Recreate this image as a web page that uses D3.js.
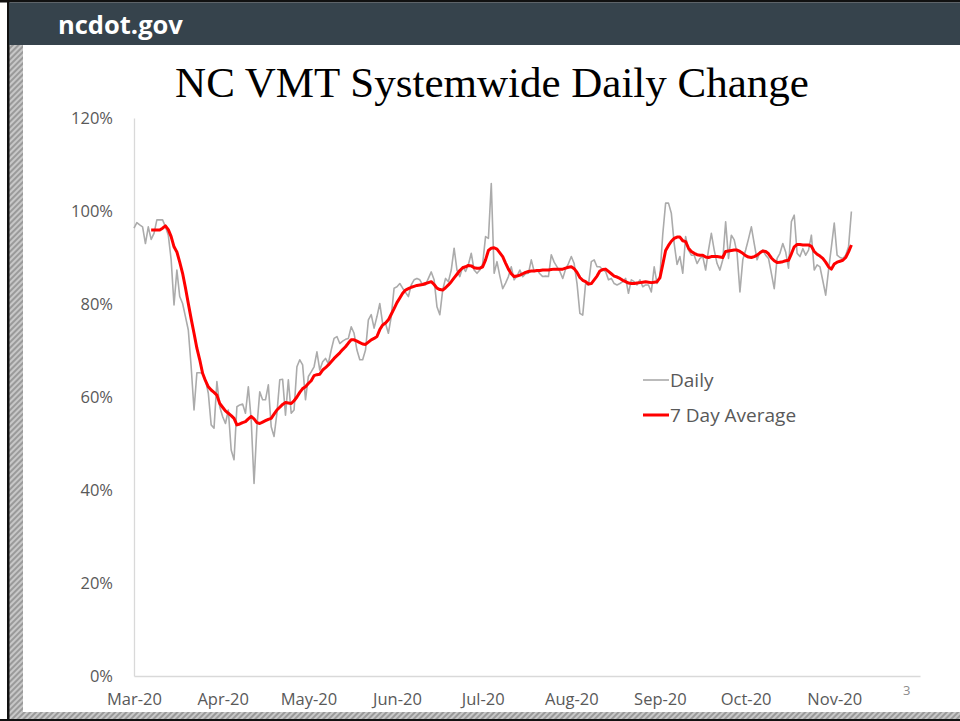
<!DOCTYPE html>
<html>
<head>
<meta charset="utf-8">
<script src="https://cdn.jsdelivr.net/npm/d3@7"></script>
<style>
  body { margin: 0; background: #fff; }
  svg { display: block; }
  .tick-label { font-family: "Open Sans", sans-serif; font-size: 16.5px; fill: #595959; }
  .legend-label { font-family: "Open Sans", sans-serif; font-size: 19px; fill: #595959; }
</style>
</head>
<body>
<div id="chart"></div>
<script>
// chart values
var startDate = "2020-03-01";
var monthLabels = ["Mar-20", "Apr-20", "May-20", "Jun-20", "Jul-20", "Aug-20", "Sep-20", "Oct-20", "Nov-20"];
var yTicks = [0, 0.2, 0.4, 0.6, 0.8, 1.0, 1.2];

// daily VMT vs baseline, % (one value per day from Mar 1)
var daily = [
  96.3, 97.5, 97.0, 96.6, 93.0, 96.6, 93.9, 95.2, 98.1, 98.1,
  98.1, 96.6, 94.8, 89.5, 79.8, 87.3, 81.6, 80.1, 77.3, 74.4,
  66.5, 57.2, 65.2, 65.2, 65.1, 63.7, 60.8, 54.0, 53.3, 63.3,
  57.9, 55.8, 54.3, 57.2, 48.6, 46.5, 57.9, 58.3, 58.5, 56.5,
  62.2, 55.1, 41.4, 53.6, 61.1, 59.4, 59.4, 62.6, 53.6, 51.5,
  56.5, 63.7, 63.8, 56.1, 63.7, 56.5, 57.2, 66.5, 68.0, 66.9,
  59.4, 64.4, 65.4, 66.5, 69.7, 65.8, 67.6, 68.3, 67.2, 70.1,
  72.6, 73.0, 71.5, 72.0, 72.4, 72.6, 75.1, 73.7, 70.1, 68.0,
  68.0, 70.1, 76.6, 77.7, 74.8, 77.3, 80.1, 75.8, 75.8, 73.7,
  77.3, 83.4, 83.7, 84.4, 83.4, 82.5, 81.6, 84.1, 85.2, 85.5,
  85.2, 84.1, 84.1, 85.5, 86.9, 85.2, 79.4, 77.7, 83.0, 85.5,
  84.8, 87.3, 92.0, 87.3, 85.9, 88.0, 87.0, 88.5, 90.9, 87.3,
  86.6, 87.3, 88.7, 94.5, 94.1, 105.9, 86.6, 89.1, 86.0, 83.3,
  84.5, 85.9, 88.0, 85.2, 86.0, 87.3, 85.9, 86.5, 86.6, 89.5,
  87.0, 87.3, 86.5, 85.9, 86.0, 85.9, 90.6, 89.0, 88.0, 87.0,
  85.5, 87.5, 88.7, 90.2, 88.7, 84.4, 78.0, 77.6, 84.4, 84.1,
  89.1, 89.5, 88.0, 88.0, 87.3, 87.0, 85.2, 85.5, 84.4, 84.1,
  84.4, 84.8, 85.5, 82.3, 85.2, 84.8, 84.1, 85.2, 83.7, 84.1,
  84.1, 82.6, 88.0, 84.4, 86.0, 95.0, 101.7, 101.7, 99.5, 93.0,
  88.5, 90.2, 86.6, 94.5, 91.6, 90.5, 90.5, 88.7, 89.8, 90.2,
  87.3, 91.6, 95.2, 91.6, 88.7, 87.3, 89.5, 97.7, 89.8, 94.8,
  93.8, 90.9, 82.6, 89.5, 91.6, 94.0, 96.6, 93.0, 89.5, 91.2,
  91.6, 90.5, 89.8, 86.6, 83.3, 89.8, 90.9, 93.0, 91.2, 87.7,
  97.7, 99.1, 90.9, 90.2, 91.9, 90.5, 91.6, 94.8, 87.3, 88.4,
  88.0, 85.0, 81.9, 87.3, 92.3, 97.4, 90.5, 90.0, 89.8, 90.5,
  92.3, 99.9
];

// 7 day average, %, first value on day 7 (Mar 7)
var avgStart = 6;
var avg7 = [
  95.9, 95.9, 95.9, 95.9,
  96.3, 96.8, 96.0, 94.5, 92.3, 91.2, 89.0, 86.6, 83.5, 80.1,
  76.8, 73.7, 70.5, 68.0, 65.1, 63.5, 62.2, 61.5, 61.0, 60.4,
  58.6, 57.8, 57.0, 56.5, 56.0, 55.4, 54.0, 54.2, 54.5, 54.7,
  55.3, 55.8, 55.3, 54.5, 54.3, 54.6, 54.9, 55.2, 55.4, 56.3,
  57.2, 57.8, 58.4, 58.8, 58.7, 58.6, 59.2, 60.0, 61.0, 61.8,
  62.2, 62.9, 63.5, 64.6, 64.8, 64.9, 65.8, 66.3, 66.9, 67.6,
  68.3, 68.9, 69.5, 70.2, 70.8, 71.6, 72.3, 72.3, 72.0, 71.7,
  71.4, 71.3, 71.8, 72.3, 72.6, 73.0, 74.5, 75.5, 75.9, 76.6,
  77.8, 79.0, 80.3, 81.3, 82.3, 83.0, 83.3, 83.6, 83.8, 84.0,
  84.1, 84.2, 84.4, 84.6, 84.8, 84.2, 83.4, 83.1, 83.0, 83.5,
  84.1, 84.8, 85.6, 86.4, 87.2, 87.8, 88.0, 88.3, 88.2, 87.8,
  87.7, 87.7, 88.0, 89.5, 91.5, 92.0, 92.1, 91.8, 91.0, 90.2,
  88.8, 87.5, 86.5, 85.9, 86.0, 86.2, 86.5, 86.8, 87.0, 87.1,
  87.1, 87.2, 87.2, 87.3, 87.3, 87.3, 87.4, 87.5, 87.5, 87.5,
  87.5, 87.7, 87.9, 88.0, 87.6, 86.8, 85.7, 85.1, 84.8, 84.3,
  84.4, 85.2, 86.0, 87.1, 87.4, 87.5, 87.0, 86.5, 86.0, 85.8,
  85.5, 85.1, 84.8, 84.5, 84.4, 84.4, 84.5, 84.6, 84.7, 84.8,
  84.7, 84.6, 84.7, 84.8, 85.6, 88.5, 91.5, 92.6, 93.5, 94.1,
  94.4, 94.4, 93.6, 93.4, 92.0, 91.3, 90.9, 90.6, 90.5, 90.5,
  90.1, 90.0, 90.2, 90.2, 90.2, 90.1, 90.0, 91.3, 91.4, 91.5,
  91.6, 91.6, 91.3, 90.9, 90.4, 90.1, 90.0, 90.2, 90.5, 91.0,
  91.4, 91.3, 90.8, 89.9, 89.3, 88.9, 89.0, 89.1, 89.3, 89.4,
  90.8, 92.3, 92.8, 92.8, 92.7, 92.7, 92.7, 92.4, 91.3, 90.7,
  90.3, 89.8, 89.0, 88.0, 87.5, 88.6, 89.0, 89.2, 89.4, 90.0,
  91.2, 92.7
];

var W = 960, H = 721;
var svg = d3.select("#chart").append("svg")
    .attr("width", W)
    .attr("height", H);

// slide frame
svg.append("rect").attr("x", 0).attr("y", 0).attr("width", W).attr("height", H).attr("fill", "#fff");

var defs = svg.append("defs");
var pat = defs.append("pattern")
    .attr("id", "hatch")
    .attr("width", 4).attr("height", 4)
    .attr("patternUnits", "userSpaceOnUse")
    .attr("patternTransform", "rotate(45)");
pat.append("rect").attr("width", 4).attr("height", 4).attr("fill", "#c8c8c8");
pat.append("rect").attr("width", 2).attr("height", 4).attr("fill", "#9a9a9a");

svg.append("rect").attr("x", 9).attr("y", 45).attr("width", 14).attr("height", H - 45).attr("fill", "url(#hatch)");
svg.append("rect").attr("x", 9).attr("y", 712).attr("width", W - 9).attr("height", 7).attr("fill", "url(#hatch)");
svg.append("rect").attr("x", 0).attr("y", 719).attr("width", W).attr("height", 2).attr("fill", "#111");
svg.append("rect").attr("x", 7).attr("y", 0).attr("width", 2.5).attr("height", H).attr("fill", "#111");

// header
svg.append("rect").attr("x", 0).attr("y", 0).attr("width", W).attr("height", 2.5).attr("fill", "#111");
svg.append("rect").attr("x", 9).attr("y", 2.5).attr("width", W - 9).attr("height", 42.5).attr("fill", "#36434c");
svg.append("text")
    .attr("x", 58).attr("y", 34)
    .attr("fill", "#fff")
    .style("font-family", "'Open Sans', sans-serif")
    .style("font-weight", "700")
    .style("font-size", "25.5px")
    .text("ncdot.gov");

// title
svg.append("text")
    .attr("x", 492).attr("y", 97)
    .attr("text-anchor", "middle")
    .attr("fill", "#000")
    .style("font-family", "'Liberation Serif', 'Times New Roman', serif")
    .style("font-size", "43px")
    .text("NC VMT Systemwide Daily Change");

// scales
var parse = d3.timeParse("%Y-%m-%d");
var t0 = parse(startDate);
var x = d3.scaleTime()
    .domain([t0, parse("2020-12-01")])
    .range([134, 920]);
var y = d3.scaleLinear()
    .domain([0, 1.2])
    .range([676, 118]);

var dailyData = daily.map(function (v, i) {
    return {date: d3.timeDay.offset(t0, i), value: v / 100};
});
var avgData = avg7.map(function (v, i) {
    return {date: d3.timeDay.offset(t0, avgStart + i), value: v / 100};
});

// axes
var yAxis = svg.append("g")
    .attr("transform", "translate(134,0)")
    .call(d3.axisLeft(y).tickValues(yTicks).tickFormat(d3.format(".0%")).tickSize(0).tickPadding(21));
yAxis.select(".domain").attr("stroke", "#d9d9d9").attr("stroke-width", 1.3);
yAxis.selectAll("text").attr("class", "tick-label").attr("dy", "0.35em");

var monthTicks = monthLabels.map(function (m, i) { return d3.timeMonth.offset(t0, i); });
var xAxis = svg.append("g")
    .attr("transform", "translate(0,676)")
    .call(d3.axisBottom(x).tickValues(monthTicks)
        .tickFormat(function (d, i) { return monthLabels[i]; })
        .tickSize(0).tickPadding(17));
xAxis.select(".domain").attr("stroke", "#d9d9d9").attr("stroke-width", 1.3);
xAxis.selectAll("text").attr("class", "tick-label");

// lines
var line = d3.line()
    .x(function (d) { return x(d.date); })
    .y(function (d) { return y(d.value); });

svg.append("path")
    .datum(dailyData)
    .attr("fill", "none")
    .attr("stroke", "#ababab")
    .attr("stroke-width", 1.6)
    .attr("stroke-linejoin", "round")
    .attr("d", line);

svg.append("path")
    .datum(avgData)
    .attr("fill", "none")
    .attr("stroke", "#ff0000")
    .attr("stroke-width", 3)
    .attr("stroke-linejoin", "round")
    .attr("d", line);

// legend
var legend = svg.append("g").attr("transform", "translate(643,380)");
legend.append("line").attr("x1", 0).attr("x2", 26).attr("y1", 0).attr("y2", 0)
    .attr("stroke", "#ababab").attr("stroke-width", 1.6);
legend.append("text").attr("class", "legend-label").attr("x", 27).attr("y", 0).attr("dy", "0.35em").text("Daily");
legend.append("line").attr("x1", 0).attr("x2", 26).attr("y1", 35).attr("y2", 35)
    .attr("stroke", "#ff0000").attr("stroke-width", 3);
legend.append("text").attr("class", "legend-label").attr("x", 27).attr("y", 35).attr("dy", "0.35em").text("7 Day Average");

// slide number
svg.append("text")
    .attr("x", 903).attr("y", 695)
    .attr("fill", "#8c8c8c")
    .style("font-family", "'Open Sans', sans-serif")
    .style("font-size", "13px")
    .text("3");
</script>
</body>
</html>
